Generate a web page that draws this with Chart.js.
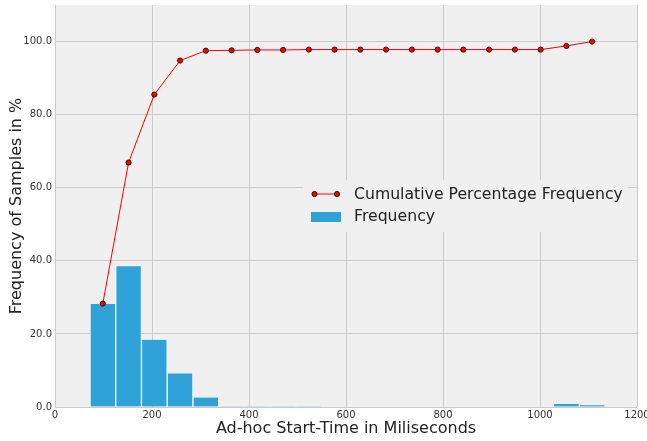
<!DOCTYPE html>
<html>
<head>
<meta charset="utf-8">
<script src="https://cdn.jsdelivr.net/npm/chart.js@4"></script>
<style>
html,body{margin:0;padding:0;background:#ffffff;}
#wrap{width:647px;height:441px;position:relative;}
</style>
</head>
<body>
<div id="wrap"><canvas id="c" width="647" height="441"></canvas></div>
<script>
// Bin centres (ms) of the 20 histogram bins
const binCenters = [98.6, 151.7, 204.8, 257.9, 311.0, 364.1, 417.2, 470.3, 523.4, 576.5,
                    629.6, 682.7, 735.8, 788.9, 842.0, 895.1, 948.2, 1001.3, 1054.4, 1107.5];
// Frequency (%) per bin
const frequency = [28.2, 38.5, 18.4, 9.2, 2.6, 0.1, 0.1, 0.05, 0.05, 0, 0, 0, 0, 0, 0, 0, 0, 0, 0.8, 0.5];
// Cumulative percentage frequency
const cumulative = [28.3, 66.9, 85.5, 94.8, 97.5, 97.6, 97.7, 97.7, 97.8, 97.8,
                    97.8, 97.8, 97.8, 97.8, 97.8, 97.8, 97.8, 97.8, 98.8, 100.0];
const xTicks = [0, 200, 400, 600, 800, 1000, 1200];
const yTicks = [0, 20, 40, 60, 80, 100];
const seriesNames = ['Cumulative Percentage Frequency', 'Frequency'];

const FONT = "'DejaVu Sans', sans-serif";

const bgPlugin = {
  id: 'plotBg',
  beforeDraw(chart) {
    const {ctx, chartArea: a} = chart;
    ctx.save();
    ctx.fillStyle = '#f0f0f0';
    ctx.fillRect(a.left, a.top, a.right - a.left, a.bottom - a.top);
    ctx.restore();
  }
};

const legendPlugin = {
  id: 'insideLegend',
  afterDatasetsDraw(chart) {
    const {ctx} = chart;
    const x0 = 303, y0 = 180, w = 325, h = 52;
    ctx.save();
    ctx.fillStyle = '#f0f0f0';
    ctx.fillRect(x0, y0, w, h);
    // line item
    const ly = 194;
    ctx.strokeStyle = '#ff0000';
    ctx.lineWidth = 1;
    ctx.beginPath(); ctx.moveTo(314.5, ly); ctx.lineTo(337, ly); ctx.stroke();
    [314.5, 337].forEach(px => {
      ctx.beginPath(); ctx.arc(px, ly, 2.6, 0, Math.PI * 2);
      ctx.fillStyle = '#ff0000'; ctx.fill();
      ctx.strokeStyle = '#000000'; ctx.lineWidth = 0.8; ctx.stroke();
    });
    // bar item
    ctx.fillStyle = '#30a2da';
    ctx.fillRect(311, 212, 30, 10);
    ctx.fillStyle = '#222222';
    ctx.font = "15.7px " + FONT;
    ctx.textBaseline = 'middle';
    ctx.textAlign = 'left';
    ctx.fillText(chart.data.datasets[0].label, 354, ly + 0.5);
    ctx.fillText(chart.data.datasets[1].label, 354, 217);
    ctx.restore();
  }
};

new Chart(document.getElementById('c'), {
  type: 'bar',
  data: {
    datasets: [
      {
        type: 'line',
        label: seriesNames[0],
        data: binCenters.map((x, i) => ({x: x, y: cumulative[i]})),
        borderColor: '#ff0000',
        borderWidth: 1,
        pointRadius: 2.6,
        pointBackgroundColor: '#ff0000',
        pointBorderColor: '#000000',
        pointBorderWidth: 0.8,
        tension: 0,
        fill: false,
        order: 0
      },
      {
        type: 'bar',
        label: seriesNames[1],
        data: binCenters.map((x, i) => ({x: x, y: frequency[i]})),
        backgroundColor: '#30a2da',
        borderColor: '#ffffff',
        borderWidth: {left: 1, right: 1, top: 0, bottom: 0},
        borderSkipped: false,
        barPercentage: 1.0,
        categoryPercentage: 1.0,
        order: 1
      }
    ]
  },
  options: {
    responsive: false,
    animation: false,
    devicePixelRatio: 1,
    layout: {padding: {left: 0, right: 10, top: 5, bottom: 0}},
    plugins: {legend: {display: false}, tooltip: {enabled: false}},
    scales: {
      x: {
        type: 'linear',
        min: 0, max: 1200,
        offset: false,
        afterBuildTicks(s) { s.ticks = xTicks.map(v => ({value: v})); },
        afterFit(s) { s.height = 34; s.paddingLeft = 0; s.paddingRight = 0; },
        ticks: {
          color: '#333333', font: {family: FONT, size: 10}, padding: 2,
          maxRotation: 0, autoSkip: false,
          callback: v => String(v)
        },
        grid: {color: '#cbcbcb', lineWidth: 1, drawTicks: false, offset: false},
        border: {display: false},
        title: {display: true, text: 'Ad-hoc Start-Time in Miliseconds',
                color: '#222222', font: {family: FONT, size: 16}, padding: {top: 0, bottom: 3}}
      },
      y: {
        type: 'linear',
        min: 0, max: 110,
        afterBuildTicks(s) { s.ticks = yTicks.map(v => ({value: v})); },
        afterFit(s) { s.width = 55; s.paddingTop = 0; s.paddingBottom = 0; },
        ticks: {
          color: '#333333', font: {family: FONT, size: 10}, padding: 3,
          callback: v => Number(v).toFixed(1)
        },
        grid: {color: '#cbcbcb', lineWidth: 1, drawTicks: false},
        border: {display: false},
        title: {display: true, text: 'Frequency of Samples in %',
                color: '#222222', font: {family: FONT, size: 16}, padding: {top: 7, bottom: 0}}
      }
    }
  },
  plugins: [bgPlugin, legendPlugin]
});
</script>
</body>
</html>
